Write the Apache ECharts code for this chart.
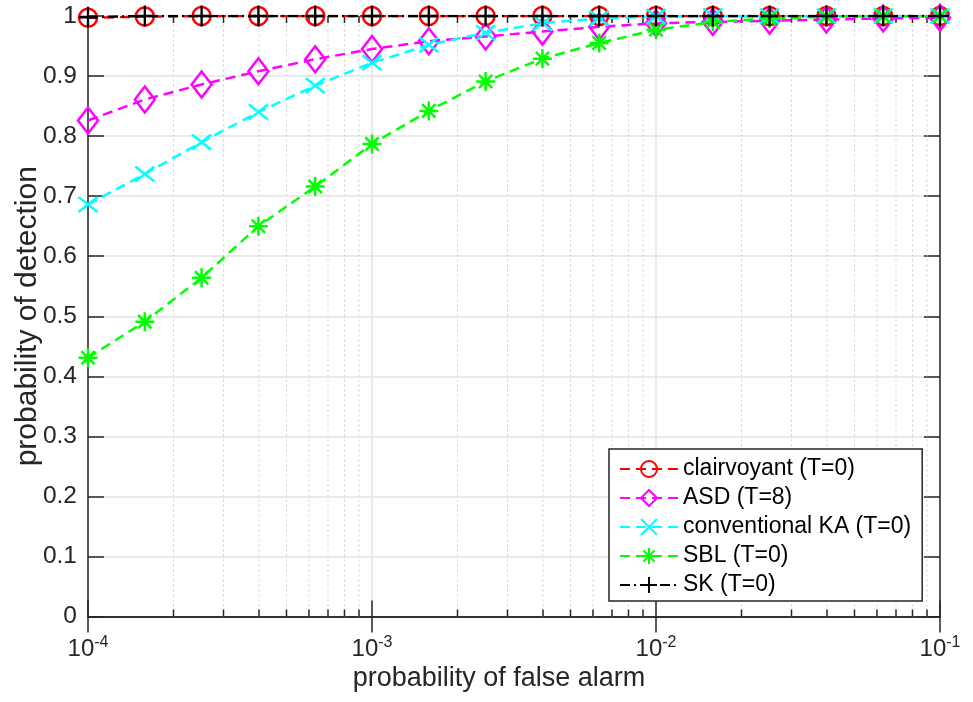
<!DOCTYPE html>
<html>
<head>
<meta charset="utf-8">
<script src="https://cdn.jsdelivr.net/npm/echarts@6/dist/echarts.min.js"></script>
<style>html,body{margin:0;padding:0;background:#fff}#c{width:973px;height:702px}</style>
</head>
<body>
<div id="c"></div>
<script>
// ---- data ----
const pfa = [1e-4, 1.585e-4, 2.512e-4, 3.981e-4, 6.310e-4, 1e-3, 1.585e-3, 2.512e-3, 3.981e-3, 6.310e-3, 1e-2, 1.585e-2, 2.512e-2, 3.981e-2, 6.310e-2, 1e-1];
const clairvoyant = [0.997, 0.999, 1, 1, 1, 1, 1, 1, 1, 1, 1, 1, 1, 1, 1, 1];
const asd = [0.826, 0.861, 0.886, 0.908, 0.928, 0.945, 0.958, 0.966, 0.974, 0.982, 0.988, 0.990, 0.992, 0.994, 0.996, 0.997];
const convKA = [0.686, 0.737, 0.790, 0.840, 0.884, 0.922, 0.952, 0.972, 0.988, 0.996, 0.999, 1, 1, 1, 1, 1];
const sbl = [0.431, 0.491, 0.564, 0.650, 0.716, 0.787, 0.842, 0.891, 0.929, 0.955, 0.977, 0.990, 0.996, 0.999, 1, 1];
const sk = [0.998, 1, 1, 1, 1, 1, 1, 1, 1, 1, 1, 1, 1, 1, 1, 1];
const seriesNames = ['clairvoyant (T=0)', 'ASD (T=8)', 'conventional KA (T=0)', 'SBL (T=0)', 'SK (T=0)'];
const decades = [1e-4, 1e-3, 1e-2];
const minorMultipliers = [2, 3, 4, 5, 6, 7, 8, 9];
const xLabel = 'probability of false alarm';
const yLabel = 'probability of detection';

// ---- chart ----
const FONT = 'Liberation Sans, Arial, Helvetica, sans-serif';
const AX = '#262626';
const GRIDC = '#e3e3e3';
const minorVals = [];
decades.forEach(d => minorMultipliers.forEach(m => minorVals.push([d * m])));

function pairs(ys) { return pfa.map((x, i) => [x, ys[i]]); }

const SYM = {
  circle: 'circle',
  diamond: 'path://M5,0L10,7L5,14L0,7Z',
  cross: 'path://M0,0L10,10M10,0L0,10',
  star: 'path://M5,0L5,10M0,5L10,5M1.5,1.5L8.5,8.5M8.5,1.5L1.5,8.5',
  plus: 'path://M5,0L5,10M0,5L10,5'
};

function mk(name, ys, color, symbol, size, dash, z) {
  return {
    name: name, type: 'line', data: pairs(ys), z: z,
    symbol: symbol, symbolSize: size, showAllSymbol: true,
    lineStyle: { color: color, width: 2.5, type: dash },
    itemStyle: { color: 'rgba(0,0,0,0)', borderColor: color, borderWidth: 2.5 },
    emphasis: { disabled: true }, animation: false
  };
}

const chart = echarts.init(document.getElementById('c'), null, { renderer: 'canvas' });
const sup = { fontSize: 16, lineHeight: 16, verticalAlign: 'top', fontFamily: FONT, color: AX };
chart.setOption({
  animation: false,
  textStyle: { fontFamily: FONT },
  grid: { left: 88, right: 33, top: 16, bottom: 85.5, containLabel: false, outerBoundsMode: 'none' },
  xAxis: [{
    type: 'log', logBase: 10, min: 1e-4, max: 1e-1,
    axisLine: { show: true, lineStyle: { color: AX, width: 1.5 } },
    axisTick: { show: true, inside: true, length: 16, lineStyle: { color: AX, width: 1.5 } },
    splitLine: { show: true, lineStyle: { color: GRIDC, width: 1.5 } },
    axisLabel: {
      margin: 18, color: AX,
      formatter: v => '{b|10}{s|' + Math.round(Math.log10(v)) + '}',
      rich: { b: { fontSize: 24, lineHeight: 29, fontFamily: FONT, color: AX }, s: sup }
    },
    name: xLabel, nameLocation: 'middle', nameGap: 49, nameMoveOverlap: false,
    nameTextStyle: { fontSize: 27, color: AX, fontFamily: FONT, padding: [0, 30, 0, 0] }
  }, {
    type: 'log', logBase: 10, min: 1e-4, max: 1e-1, position: 'top',
    axisLine: { show: true, lineStyle: { color: AX, width: 1.5 } },
    axisTick: { show: true, inside: true, length: 16, lineStyle: { color: AX, width: 1.5 } },
    axisLabel: { show: false }, splitLine: { show: false }
  }],
  yAxis: [{
    type: 'value', min: 0, max: 1, interval: 0.1,
    axisLine: { show: true, lineStyle: { color: AX, width: 1.5 } },
    axisTick: { show: true, inside: true, length: 16, lineStyle: { color: AX, width: 1.5 } },
    splitLine: { show: true, lineStyle: { color: GRIDC, width: 1.5 } },
    axisLabel: { fontSize: 24.5, color: AX, margin: 11, formatter: v => String(Math.round(v * 10) / 10) },
    name: yLabel, nameLocation: 'middle', nameGap: 45, nameRotate: 90, nameMoveOverlap: false,
    nameTextStyle: { fontSize: 30, color: AX, fontFamily: FONT }
  }, {
    type: 'value', min: 0, max: 1, interval: 0.1, position: 'right',
    axisLine: { show: true, lineStyle: { color: AX, width: 1.5 } },
    axisTick: { show: true, inside: true, length: 16, lineStyle: { color: AX, width: 1.5 } },
    axisLabel: { show: false }, splitLine: { show: false }
  }],
  legend: {
    data: seriesNames, orient: 'vertical', left: 609, top: 449,
    backgroundColor: '#fff', borderColor: AX, borderWidth: 1.5,
    padding: [8, 11, 4, 10], itemGap: 5, itemWidth: 58, itemHeight: 20,
    textStyle: { fontSize: 23, lineHeight: 24, color: '#000', fontFamily: FONT },
    selectedMode: false
  },
  series: [
    {
      type: 'custom', name: 'minor', xAxisIndex: 0, yAxisIndex: 0, z: 1, silent: true,
      data: minorVals, encode: { x: 0 },
      renderItem: function (params, api) {
        const x = api.value(0);
        const b = api.coord([x, 0]);
        const t = api.coord([x, 1]);
        return {
          type: 'group', children: [
            { type: 'line', shape: { x1: b[0], y1: b[1], x2: t[0], y2: t[1] }, style: { stroke: '#cfcfcf', lineWidth: 1, lineDash: [2, 3] } },
            { type: 'line', shape: { x1: b[0], y1: b[1], x2: b[0], y2: b[1] - 7 }, style: { stroke: AX, lineWidth: 1.5 } },
            { type: 'line', shape: { x1: t[0], y1: t[1], x2: t[0], y2: t[1] + 7 }, style: { stroke: AX, lineWidth: 1.5 } }
          ]
        };
      }
    },
    mk(seriesNames[0], clairvoyant, '#ff0000', SYM.circle, 18, [10, 6], 3),
    mk(seriesNames[1], asd, '#ff00ff', SYM.diamond, [20, 26], [10, 6], 4),
    mk(seriesNames[2], convKA, '#00ffff', SYM.cross, [19, 15], [10, 6], 5),
    mk(seriesNames[3], sbl, '#00ff00', SYM.star, 19, [10, 6], 6),
    mk(seriesNames[4], sk, '#000000', SYM.plus, [18, 21], [10, 4, 2, 4], 7)
  ]
});
</script>
</body>
</html>
